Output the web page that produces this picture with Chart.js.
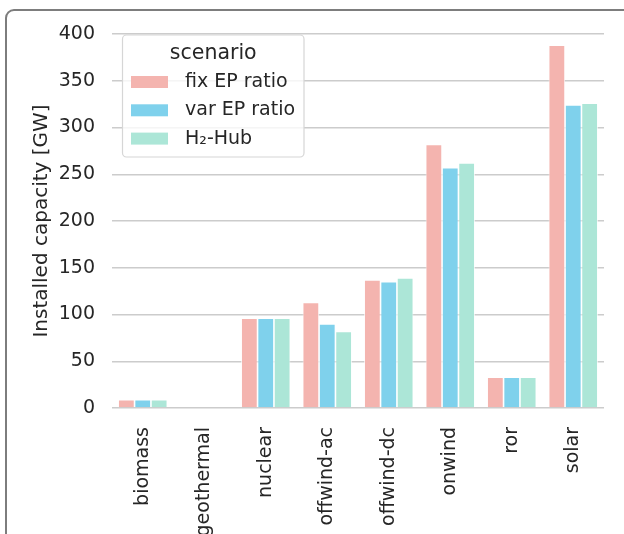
<!DOCTYPE html>
<html>
<head>
<meta charset="utf-8">
<script src="https://cdn.jsdelivr.net/npm/chart.js@4/dist/chart.umd.min.js"></script>
<style>
  html, body { margin: 0; padding: 0; background: #ffffff; overflow: hidden; }
  #wrap { position: relative; width: 624px; height: 534px; overflow: hidden; }
  #frame {
    position: absolute; left: 5px; top: 9px; width: 720px; height: 720px;
    border: 2px solid #7d7d7d; border-radius: 9px; box-sizing: border-box;
  }
  #chart { position: absolute; left: 0; top: 0; }
</style>
</head>
<body>
<div id="wrap">
  <div id="frame"></div>
  <canvas id="chart" width="624" height="534"></canvas>
</div>
<script>
// Installed capacity per carrier and scenario (GW)
const carriers = ['biomass', 'geothermal', 'nuclear', 'offwind-ac', 'offwind-dc', 'onwind', 'ror', 'solar'];
const fixEpRatio = [9, 0, 96, 113, 137, 282, 33, 388];
const varEpRatio = [9, 0, 96, 90, 135, 257, 33, 324];
const h2Hub = [9, 0, 96, 82, 139, 262, 33, 326];
const scenarioNames = ['fix EP ratio', 'var EP ratio', 'H₂-Hub'];
const scenarioColors = ['#f4b4af', '#7fd1ec', '#ace6d7'];
const yTicks = [0, 50, 100, 150, 200, 250, 300, 350, 400];

const FONT = 'DejaVu Sans';
const TEXT = '#262626';
const FS = 19;

// Legend box drawn inside the plot area, top-left
const scenarioLegend = {
  id: 'scenarioLegend',
  afterDraw(chart) {
    const ctx = chart.ctx;
    const x = 122.5, y = 35, w = 181.5, h = 122;
    ctx.save();
    ctx.beginPath();
    ctx.roundRect(x, y, w, h, 4);
    ctx.fillStyle = 'rgba(255,255,255,0.8)';
    ctx.fill();
    ctx.lineWidth = 1.2;
    ctx.strokeStyle = '#d6d6d6';
    ctx.stroke();
    ctx.fillStyle = TEXT;
    ctx.textBaseline = 'middle';
    ctx.textAlign = 'center';
    ctx.font = '20.5px "' + FONT + '"';
    ctx.fillText('scenario', x + w / 2, 53.5);
    ctx.textAlign = 'left';
    ctx.font = FS + 'px "' + FONT + '"';
    chart.data.datasets.forEach((ds, i) => {
      const ry = 82 + i * 28.3;
      ctx.fillStyle = ds.backgroundColor;
      ctx.fillRect(131, ry - 6, 37, 12);
      ctx.fillStyle = TEXT;
      ctx.fillText(ds.label, 185, ry);
    });
    ctx.restore();
  }
};

new Chart(document.getElementById('chart'), {
  type: 'bar',
  data: {
    labels: carriers,
    datasets: [fixEpRatio, varEpRatio, h2Hub].map((vals, i) => ({
      label: scenarioNames[i],
      data: vals,
      backgroundColor: scenarioColors[i],
      borderColor: '#ffffff',
      borderWidth: 0.8,
      categoryPercentage: 0.8,
      barPercentage: 1.0
    }))
  },
  options: {
    responsive: false,
    devicePixelRatio: 1,
    animation: false,
    layout: { padding: { top: 34, right: 20, bottom: 0, left: 0 } },
    plugins: {
      legend: { display: false },
      tooltip: { enabled: false }
    },
    scales: {
      x: {
        grid: { display: false, drawTicks: false },
        border: { display: false },
        ticks: {
          color: TEXT,
          font: { family: FONT, size: FS },
          minRotation: 90,
          maxRotation: 90,
          padding: 19,
          autoSkip: false
        },
        afterFit(scale) { scale.height = 126; }
      },
      y: {
        min: 0,
        max: 400,
        afterBuildTicks(scale) { scale.ticks = yTicks.map(v => ({ value: v })); },
        grid: { color: '#cccccc', lineWidth: 1.5, drawTicks: false },
        border: { display: false },
        ticks: {
          color: TEXT,
          font: { family: FONT, size: FS },
          padding: 17
        },
        title: {
          display: true,
          text: 'Installed capacity [GW]',
          color: TEXT,
          font: { family: FONT, size: 20 },
          padding: { top: 30, bottom: 0 }
        },
        afterFit(scale) { scale.width = 112; }
      }
    }
  },
  plugins: [scenarioLegend]
});
</script>
</body>
</html>
